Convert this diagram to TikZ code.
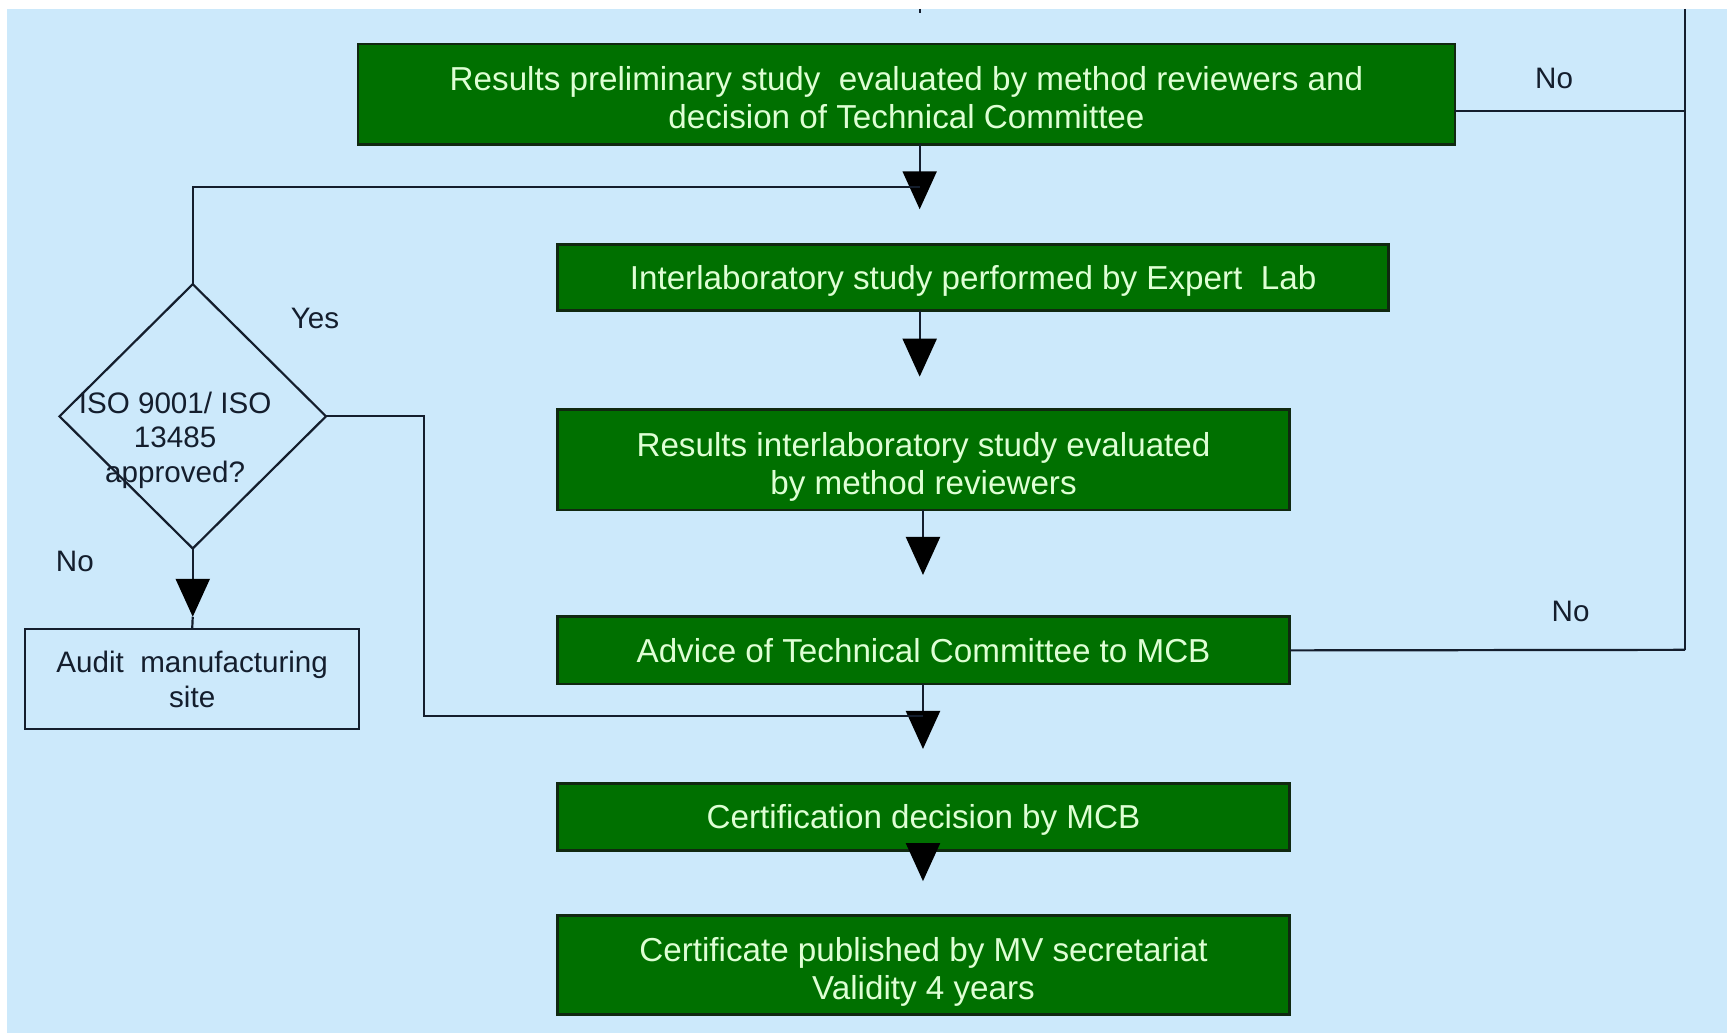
\documentclass[tikz,border=0pt]{standalone}
\usepackage{fontspec}
\setmainfont{Liberation Sans}
\usetikzlibrary{shapes.geometric,arrows.meta}
\definecolor{bg}{RGB}{204,233,251}
\definecolor{gfill}{RGB}{0,112,0}
\definecolor{gedge}{RGB}{16,40,16}
\definecolor{gtext}{RGB}{222,255,212}
\definecolor{ink}{RGB}{20,30,45}
\newcommand\pxs{0.5507pt}
\newcommand\lowr{\rule{0pt}{15.5pt}}
\begin{document}
\begin{tikzpicture}[x=0.5507pt,y=-0.5507pt,
  gtxt/.style={font=\fontsize{16.6}{18.7}\selectfont},
  dtxt/.style={font=\fontsize{14.8}{17.4}\selectfont},
  gbox/.style={gtxt, draw=gedge, line width=1.4pt, fill=gfill, text=gtext,
    inner sep=0pt, outer sep=0pt, align=center, text depth=0pt},
  wbox/.style={dtxt, draw=ink, line width=1.1pt, fill=bg, text=ink,
    inner sep=0pt, outer sep=0pt, align=center, text depth=0pt},
  wire/.style={draw=ink, line width=1.1pt},
  arr/.style={wire, -{Triangle[width=17pt,length=19pt,black]}},
  lbl/.style={dtxt, text=ink, inner sep=0pt, align=center}]
% background
\fill[white] (0,0) rectangle (1568,938);
\fill[bg] (6,8) rectangle (1568,938);
\useasboundingbox (0,0) rectangle (1568,938);

% nodes
\node[gbox, minimum width=996*\pxs, minimum height=91*\pxs] (b1) at (823,85.5)
  {\lowr Results preliminary study\ \ evaluated by method reviewers and\\decision of Technical Committee};
\node[gbox, minimum width=755*\pxs, minimum height=60*\pxs] (b2) at (883.5,252)
  {Interlaboratory study performed by Expert\ \ Lab};
\node[gbox, minimum width=665*\pxs, minimum height=91*\pxs] (b3) at (838.5,417.5)
  {\lowr Results interlaboratory study evaluated\\by method reviewers};
\node[gbox, minimum width=665*\pxs, minimum height=61*\pxs] (b4) at (838.5,590.5)
  {Advice of Technical Committee to MCB};
\node[gbox, minimum width=665*\pxs, minimum height=61*\pxs] (b5) at (838.5,741.5)
  {Certification decision by MCB};
\node[gbox, minimum width=665*\pxs, minimum height=90*\pxs] (b6) at (838.5,876)
  {\lowr Certificate published by MV secretariat\\Validity 4 years};
\node[wbox, minimum width=303*\pxs, minimum height=91*\pxs] (audit) at (174.5,616.5)
  {Audit\ \ manufacturing\\site};
\node[diamond, draw=ink, line width=1.1pt, inner sep=0pt, outer sep=0pt,
  minimum width=242*\pxs, minimum height=240*\pxs] (dia) at (175,378) {};
\node[lbl, text depth=0pt] (diatext) at (159,397) {ISO 9001/ ISO\\13485\\approved?};

% labels
\node[lbl] (yes) at (286,289) {Yes};
\node[lbl] (nodia) at (68,510) {No};
\node[lbl] (no1) at (1411,71) {No};
\node[lbl] (no2) at (1426,555) {No};

% coordinates
\coordinate (top1) at (835,8);
\coordinate (top2) at (835,12);
\coordinate (rtop) at (1530,8);
\coordinate (r1) at (1530,101);
\coordinate (r2) at (1530,590);
\coordinate (t1) at (835,190);
\coordinate (j1) at (835,170);
\coordinate (t2) at (835,342);
\coordinate (t3) at (838,522);
\coordinate (t4) at (838,680);
\coordinate (j4) at (838,650);
\coordinate (k1) at (385,378);
\coordinate (t5) at (838,800);
\coordinate (ta) at (175,560);

% connectors
\draw[wire] (top1) -- (top2);
\draw[wire] (rtop) -- (r2);
\draw[wire] (b1.east |- r1) -- (r1);
\draw[wire] (b4.east) -- (r2);
\draw[arr] (b1.south -| t1) -- (t1);
\draw[wire] (dia.north) |- (j1);
\draw[arr] (b2.south -| t2) -- (t2);
\draw[arr] (b3.south -| t3) -- (t3);
\draw[arr] (b4.south -| t4) -- (t4);
\draw[wire] (dia.east) -- (k1) |- (j4);
\draw[arr] (b5.south -| t5) -- (t5);
\draw[arr] (dia.south) -- (ta);
\draw[wire] (ta) -- (audit.north);
\end{tikzpicture}
\end{document}
